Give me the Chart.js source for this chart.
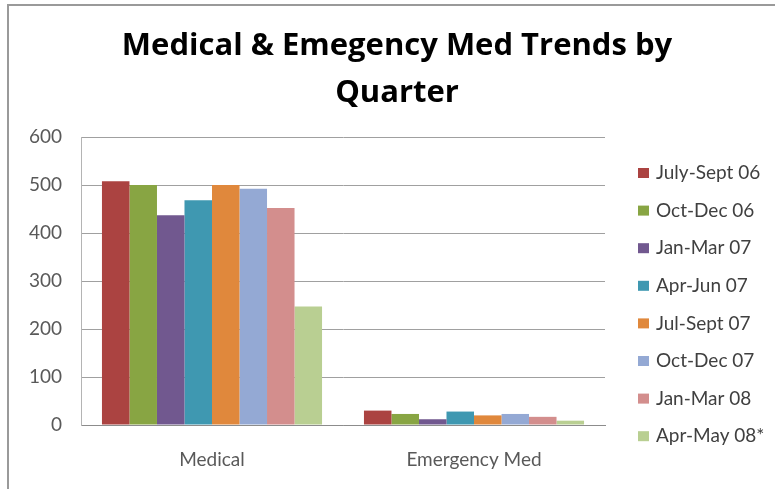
<!DOCTYPE html>
<html>
<head>
<meta charset="utf-8">
<script src="https://cdn.jsdelivr.net/npm/chart.js@4.4.1/dist/chart.umd.min.js"></script>
<style>
  html, body { margin: 0; padding: 0; background: #fff; }
</style>
</head>
<body>
<canvas id="myChart" width="775" height="489"></canvas>
<script>
const categories = ['Medical', 'Emergency Med'];
const quarters = ['July-Sept 06', 'Oct-Dec 06', 'Jan-Mar 07', 'Apr-Jun 07',
                  'Jul-Sept 07', 'Oct-Dec 07', 'Jan-Mar 08', 'Apr-May 08*'];
const medicalValues = [508, 500, 437, 468, 500, 492, 452, 247];
const emergencyValues = [30, 23, 12, 28, 20, 23, 17, 9];
const barColors = ['#ab4341', '#88a543', '#71588f', '#3f98b1',
                   '#e0883c', '#94a9d4', '#d38e8d', '#b9cf92'];
const yMin = 0, yMax = 600, yStep = 100;

// grey frame round the chart, cut off at right and bottom like the picture
const framePlugin = {
    id: 'frame',
    beforeDraw(chart) {
        const c = chart.ctx;
        c.save();
        c.fillStyle = '#fff';
        c.fillRect(0, 0, chart.width, chart.height);
        c.strokeStyle = '#9a9a9a';
        c.lineWidth = 2;
        c.strokeRect(8, 5, 800, 500);
        c.restore();
    }
};

// legend on the right, one row per dataset (built-in one wraps in this box)
const sideLegend = {
    id: 'sideLegend',
    afterDraw(chart) {
        const c = chart.ctx;
        c.save();
        c.font = '19px Lato';
        c.textBaseline = 'middle';
        c.textAlign = 'left';
        chart.data.datasets.forEach((ds, i) => {
            const y = 173 + i * 37.6;
            c.fillStyle = ds.backgroundColor;
            c.fillRect(638, y - 5, 11, 10);
            c.fillStyle = '#404040';
            c.fillText(ds.label, 656, y);
        });
        c.restore();
    }
};

const datasets = quarters.map((q, i) => ({
    label: q,
    data: [medicalValues[i], emergencyValues[i]],
    backgroundColor: barColors[i],
    borderWidth: 0,
    categoryPercentage: 0.84,
    barPercentage: 1.0,
    yAxisID: 'y'
}));

const ctx = document.getElementById('myChart');

const myChart = new Chart(ctx, {
    type: 'bar',
    data: {
        labels: categories,
        datasets: datasets
    },
    plugins: [framePlugin, sideLegend],
    options: {
        responsive: false,
        animation: false,
        devicePixelRatio: 1,
        layout: {
            padding: {left: 29, right: 10, top: 0, bottom: 0}
        },
        scales: {
            x: {
                grid: {display: false, drawTicks: false},
                border: {display: true, color: '#8c8c8c', width: 1},
                ticks: {
                    color: '#595959',
                    padding: 23.6,
                    font: {family: 'Lato', size: 19}
                },
                afterFit: s => { s.height = 64 }
            },
            y: {
                min: yMin,
                max: yMax,
                grid: {color: '#a0a0a0', drawTicks: false},
                border: {display: true, color: '#b4b4b4'},
                ticks: {
                    stepSize: yStep,
                    color: '#595959',
                    padding: 19,
                    font: {family: 'Lato', size: 19}
                },
                afterFit: s => { s.width = 52 }
            },
            yR: {
                position: 'right',
                display: true,
                grid: {display: false, drawTicks: false},
                border: {display: false},
                ticks: {display: false},
                afterFit: s => { s.width = 160 }
            }
        },
        plugins: {
            title: {
                display: true,
                text: ['Medical & Emegency Med Trends by', 'Quarter'],
                color: '#000',
                font: {family: 'Open Sans', size: 31, weight: 'bold', lineHeight: 47 / 31},
                padding: {top: 22.5, bottom: 20.5}
            },
            legend: {display: false},
            tooltip: {enabled: false}
        }
    }
});
</script>
</body>
</html>
